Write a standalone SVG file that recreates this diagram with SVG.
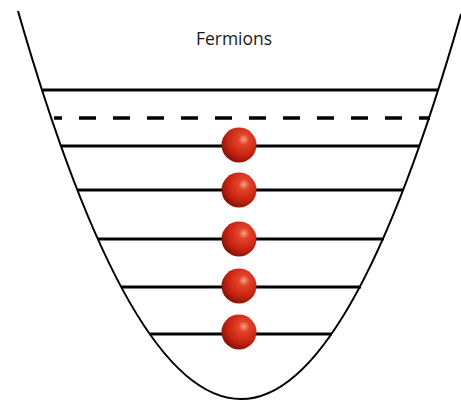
<svg xmlns="http://www.w3.org/2000/svg" width="461" height="403" viewBox="0 0 461 403">
  <style>
    .well { fill: none; stroke: #000; stroke-width: 2; }
    .level { stroke: #000; stroke-width: 3; }
    .dash { stroke-width: 3.5; stroke-dasharray: 17 17; stroke-dashoffset: 9; }
    .label { font-family: "Open Sans", "Liberation Sans", sans-serif; font-size: 17.5px; fill: #1a1a1a; }
  </style>
  <defs>
    <radialGradient id="ball" cx="0.62" cy="0.36" r="0.68" fx="0.64" fy="0.34">
      <stop offset="0" stop-color="#f6a486"/>
      <stop offset="0.22" stop-color="#e4442a"/>
      <stop offset="0.7" stop-color="#c4200f"/>
      <stop offset="1" stop-color="#7e120a"/>
    </radialGradient>
  </defs>
  <rect width="461" height="403" fill="#fff"/>
  <g id="well">
    <path class="well" d="M18,11 Q129.5,399 241,399 Q351,399 461,14"/>
  </g>
  <g id="levels">
    <line class="level" x1="43" y1="90" x2="438" y2="90"/>
    <line class="level dash" x1="54" y1="118" x2="430" y2="118"/>
    <line class="level" x1="61" y1="146" x2="419" y2="146"/>
    <line class="level" x1="78" y1="190" x2="403" y2="190"/>
    <line class="level" x1="98" y1="239" x2="384" y2="239"/>
    <line class="level" x1="121" y1="287" x2="361" y2="287"/>
    <line class="level" x1="150" y1="334" x2="332" y2="334"/>
  </g>
  <g id="particles">
    <circle cx="239" cy="145" r="17.5" fill="url(#ball)"/>
    <circle cx="239" cy="190" r="17.5" fill="url(#ball)"/>
    <circle cx="239" cy="239" r="17.5" fill="url(#ball)"/>
    <circle cx="239" cy="286" r="17.5" fill="url(#ball)"/>
    <circle cx="239" cy="332" r="17.5" fill="url(#ball)"/>
  </g>
  <g id="title">
    <text class="label" x="234" y="45" text-anchor="middle">Fermions</text>
  </g>
</svg>
